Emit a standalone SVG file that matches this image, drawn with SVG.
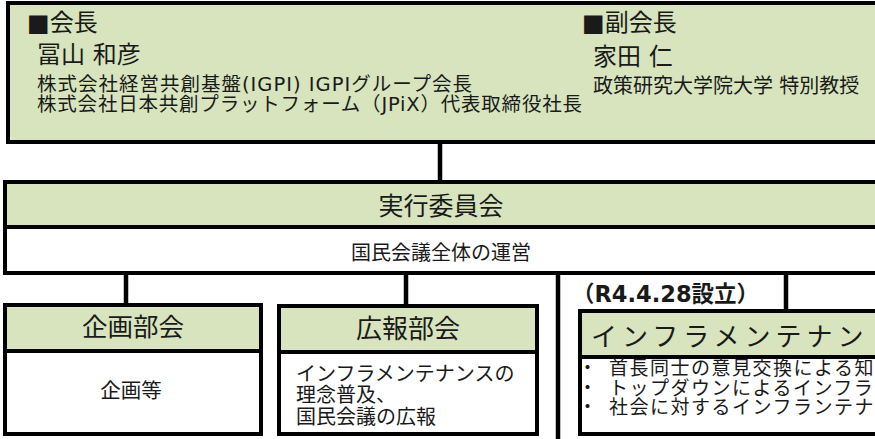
<svg xmlns="http://www.w3.org/2000/svg" width="875" height="439" viewBox="0 0 875 439">
<style>
.box{stroke:#000;stroke-width:4}
.hdr{fill:#d7e4bd}
.body{fill:#fff}
#connectors line{stroke:#000;stroke-width:4.5}
text{font-family:"DejaVu Sans","Noto Sans CJK JP",sans-serif;fill:#1a1a1a}
.c{text-anchor:middle}
.b{font-weight:bold}
</style>
<rect width="875" height="439" fill="#fff"/>
<g id="connectors">
<line x1="440" y1="142" x2="440" y2="182"/>
<line x1="126" y1="273" x2="126" y2="305"/>
<line x1="406" y1="273" x2="406" y2="306"/>
<line x1="558" y1="273" x2="558" y2="439"/>
<line x1="786" y1="273" x2="786" y2="311"/>
</g>
<g id="leadership">
<rect x="8" y="3" width="900" height="139" class="hdr box"/>
<text x="27" y="31" font-size="24">■会長</text>
<text x="37" y="63" font-size="24">冨山 和彦</text>
<text x="37" y="91" font-size="19.5" textLength="435" lengthAdjust="spacing">株式会社経営共創基盤(IGPI) IGPIグループ会長</text>
<text x="37" y="111" font-size="19.5" textLength="545" lengthAdjust="spacing">株式会社日本共創プラットフォーム（JPiX）代表取締役社長</text>
<text x="582" y="31" font-size="24">■副会長</text>
<text x="593" y="65" font-size="24">家田 仁</text>
<text x="593" y="93" font-size="20">政策研究大学院大学 特別教授</text>
</g>
<g id="executive">
<rect x="5" y="182" width="900" height="45" class="hdr box"/>
<rect x="5" y="227" width="900" height="46" class="body box"/>
<text x="441" y="215" font-size="25" class="c">実行委員会</text>
<text x="441" y="260" font-size="20" class="c">国民会議全体の運営</text>
</g>
<g id="kikaku">
<rect x="5" y="305" width="256" height="46" class="hdr box"/>
<rect x="5" y="351" width="256" height="83" class="body box"/>
<text x="133" y="336" font-size="25.5" class="c">企画部会</text>
<text x="131" y="398" font-size="20.5" class="c">企画等</text>
</g>
<g id="kouhou">
<rect x="279" y="306" width="258" height="46" class="hdr box"/>
<rect x="279" y="352" width="258" height="82" class="body box"/>
<text x="408" y="338" font-size="26" class="c">広報部会</text>
<text x="296" y="381" font-size="20">インフラメンテナンスの</text>
<text x="296" y="402" font-size="20">理念普及、</text>
<text x="296" y="424" font-size="20">国民会議の広報</text>
</g>
<g id="infra-label">
<text x="572" y="302" font-size="22.5" class="b">（R4.4.28設立）</text>
</g>
<g id="infra">
<rect x="580" y="311" width="400" height="46" class="hdr box"/>
<rect x="580" y="357" width="400" height="77" class="body box"/>
<text x="591" y="346" font-size="26" letter-spacing="5">インフラメンテナン</text>
<text x="578" y="375" font-size="19" letter-spacing="1.5">・<tspan x="609">首長同士の意見交換による知</tspan></text>
<text x="578" y="394.5" font-size="19" letter-spacing="1.5">・<tspan x="609">トップダウンによるインフラ</tspan></text>
<text x="578" y="414" font-size="19" letter-spacing="1.5">・<tspan x="609">社会に対するインフランテナ</tspan></text>
</g>
</svg>
